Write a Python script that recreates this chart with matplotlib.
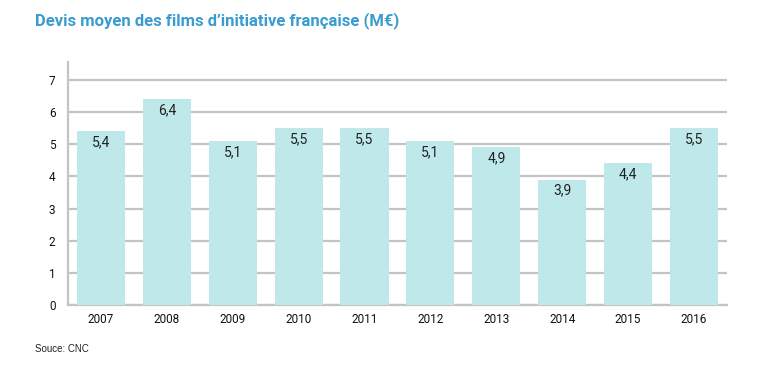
import matplotlib
matplotlib.use("Agg")
import matplotlib.pyplot as plt

years = ['2007', '2008', '2009', '2010', '2011', '2012', '2013', '2014', '2015', '2016']
devis = [5.4, 6.4, 5.1, 5.5, 5.5, 5.1, 4.9, 3.9, 4.4, 5.5]
labels = ['5,4', '6,4', '5,1', '5,5', '5,5', '5,1', '4,9', '3,9', '4,4', '5,5']
yticks = [0, 1, 2, 3, 4, 5, 6, 7]

plt.rcParams['font.family'] = ['Roboto', 'DejaVu Sans']

fig = plt.figure(figsize=(7.6, 3.65), dpi=100)
ax = fig.add_axes([0.0895, 0.164, 0.867, 0.666])

x = range(len(years))
ax.bar(x, devis, width=0.73, color='#bfe8ea', zorder=3)
for xi, v, lab in zip(x, devis, labels):
    ax.text(xi, v - 0.12, lab, ha='center', va='top', fontsize=10, color='#222222', zorder=4)

ax.set_xlim(-0.5, 9.5)
ax.set_ylim(0, 7.55)
ax.set_yticks(yticks)
ax.set_xticks(list(x))
ax.set_xticklabels(years)
ax.tick_params(length=0, labelsize=8.5, colors='#111111')
ax.tick_params(axis='y', pad=9)
ax.tick_params(axis='x', pad=6)
ax.yaxis.grid(True, color='#c4c4c4', linewidth=1.6, zorder=0)

for s in ['top', 'right']:
    ax.spines[s].set_visible(False)
for s in ['left', 'bottom']:
    ax.spines[s].set_color('#c4c4c4')
    ax.spines[s].set_linewidth(1.6)

fig.text(35 / 760, 1 - 21 / 365, 'Devis moyen des films d\u2019initiative fran\u00e7aise (M\u20ac)',
         fontsize=12, fontweight='bold', color='#3a9bd0', va='center', ha='left')
fig.text(35 / 760, 1 - 349 / 365, 'Souce: CNC', fontsize=7, color='#222222',
         va='center', ha='left', family='Liberation Sans')

fig.savefig('out.png', dpi=100)
